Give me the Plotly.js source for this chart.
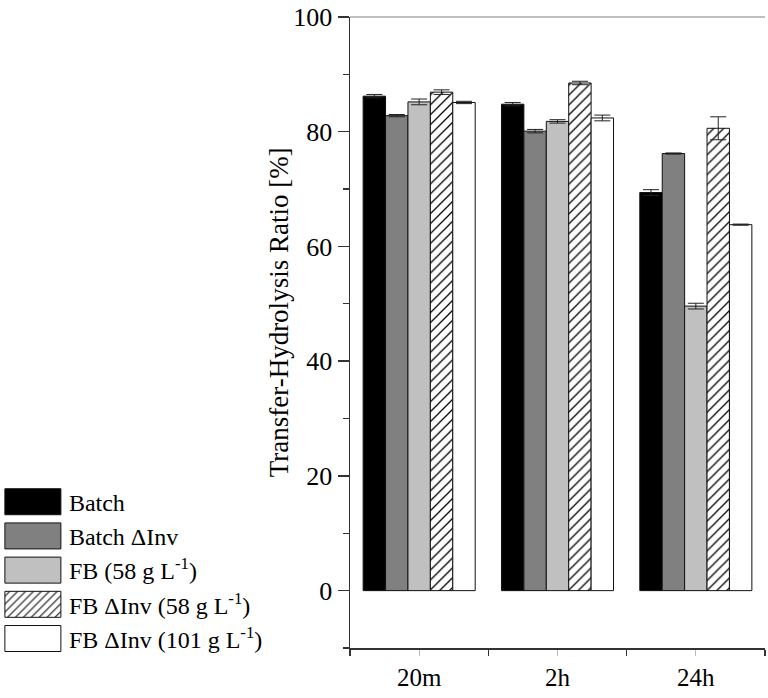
<!DOCTYPE html>
<html>
<head>
<meta charset="utf-8">
<script src="https://cdn.plot.ly/plotly-3.0.1.min.js"></script>
<style>html,body{margin:0;padding:0;background:#fff}</style>
</head>
<body>
<div id="chart" style="width:768px;height:698px"></div>
<script>
// ---- data ----
const categories = ["20m", "2h", "24h"];
const seriesNames = ["Batch", "Batch ΔInv", "FB (58 g L<sup>-1</sup>)", "FB ΔInv (58 g L<sup>-1</sup>)", "FB ΔInv (101 g L<sup>-1</sup>)"];
const batch      = [86.2, 84.8, 69.4];
const batchInv   = [82.8, 80.1, 76.2];
const fb58       = [85.2, 81.8, 49.6];
const fbInv58    = [86.9, 88.5, 80.6];
const fbInv101   = [85.1, 82.4, 63.8];
const batchErr    = [0.3, 0.3, 0.5];
const batchInvErr = [0.2, 0.3, 0.1];
const fb58Err     = [0.5, 0.3, 0.5];
const fbInv58Err  = [0.4, 0.3, 2.0];
const fbInv101Err = [0.2, 0.5, 0.1];
const yTicks = [0, 20, 40, 60, 80, 100];
const yTitle = "Transfer-Hydrolysis Ratio [%]";

// ---- styles ----
const values = [batch, batchInv, fb58, fbInv58, fbInv101];
const errs = [batchErr, batchInvErr, fb58Err, fbInv58Err, fbInv101Err];
const fills = ["#000000", "#808080", "#c0c0c0", "#ffffff", "#ffffff"];
const xIdx = categories.map((c, i) => i);

const traces = values.map((v, k) => {
  const t = {
    type: "bar",
    name: seriesNames[k],
    x: xIdx,
    y: v,
    error_y: {type: "data", array: errs[k], visible: true, color: "#222", thickness: 1, width: 8},
    marker: {color: fills[k], line: {color: "#111", width: 1}},
    legendgroup: "g" + k
  };
  if (k === 3) {
    t.marker.pattern = {shape: "/", fgcolor: "#000", bgcolor: "#fff", size: 7, solidity: 0.18, fillmode: "replace"};
  }
  return t;
});

const font = "Liberation Serif, Times New Roman, serif";
const layout = {
  width: 768, height: 698,
  margin: {l: 348, r: 3, t: 17, b: 50},
  paper_bgcolor: "#fff", plot_bgcolor: "#fff",
  barmode: "group", bargap: 0.19, bargroupgap: 0,
  font: {family: font, color: "#000", size: 20},
  showlegend: true,
  legend: {
    x: -0.834, xanchor: "left", y: -0.02, yanchor: "bottom",
    font: {family: font, size: 24, color: "#000"},
    bgcolor: "rgba(0,0,0,0)", tracegroupgap: 3, traceorder: "normal",
    itemwidth: 55
  },
  xaxis: {
    range: [-0.5, 2.5],
    tickvals: xIdx, ticktext: categories,
    showline: true, linecolor: "#333", linewidth: 1.5,
    ticks: "outside", ticklen: 6, tickwidth: 1, tickcolor: "#bbb",
    minor: {dtick: 1, tick0: 0.5, ticks: "outside", ticklen: 6, tickwidth: 1.5, tickcolor: "#333"},
    showgrid: false, zeroline: false,
    tickfont: {family: font, size: 25, color: "#000"}
  },
  yaxis: {
    range: [-10, 100],
    tickvals: yTicks,
    showline: true, linecolor: "#333", linewidth: 1.5,
    ticks: "outside", ticklen: 11, tickwidth: 1.5, tickcolor: "#333",
    minor: {dtick: 10, tick0: 0, ticks: "outside", ticklen: 6, tickwidth: 1.2, tickcolor: "#333"},
    showgrid: false, zeroline: false,
    tickfont: {family: font, size: 26, color: "#000"}
  },
  annotations: [
    {text: yTitle, xref: "paper", yref: "paper", x: 0, y: 0.532, xanchor: "center", yanchor: "middle",
     xshift: -71, textangle: -90, showarrow: false, font: {family: font, size: 27, color: "#000"}}
  ],
  shapes: [
    {type: "line", xref: "paper", yref: "paper", x0: 0, x1: 1, y0: 1, y1: 1, line: {color: "#aaa", width: 1.5}}
  ]
};

Plotly.newPlot("chart", traces, layout, {displayModeBar: false, staticPlot: true}).then(gd => {
  // enlarge legend swatches to match the reference's wide boxes
  gd.querySelectorAll(".legend g.legendpoints path").forEach(p => {
    p.setAttribute("d", "M24.5,13H-31.5V-13H24.5Z");
  });
});
</script>
</body>
</html>
